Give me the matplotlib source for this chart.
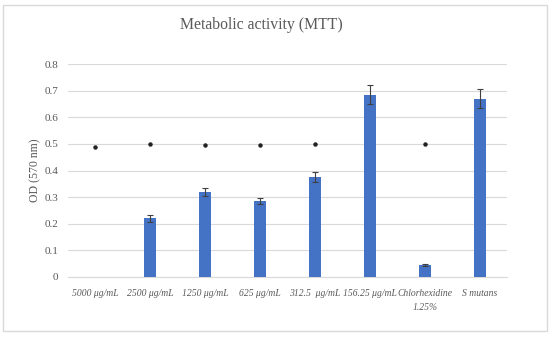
import matplotlib.pyplot as plt
import matplotlib.patches as patches
import numpy as np

categories = ["5000 μg/mL", "2500 μg/mL", "1250 μg/mL", "625 μg/mL",
              "312.5  μg/mL", "156.25 μg/mL", "Chlorhexidine\n1.25%", "S mutans"]
od_values = [0.0, 0.22, 0.32, 0.285, 0.375, 0.685, 0.045, 0.67]
od_errors = [0.0, 0.012, 0.016, 0.012, 0.02, 0.035, 0.003, 0.035]
star_values = [0.49, 0.50, 0.495, 0.495, 0.50, np.nan, 0.50, np.nan]
yticks = [0, 0.1, 0.2, 0.3, 0.4, 0.5, 0.6, 0.7, 0.8]
ytick_labels = ["0", "0.1", "0.2", "0.3", "0.4", "0.5", "0.6", "0.7", "0.8"]

plt.rcParams['font.family'] = ['Liberation Serif', 'DejaVu Serif']
text_color = '#595959'

fig = plt.figure(figsize=(5.5, 3.37), dpi=100)
fig.patches.append(patches.Rectangle((3 / 550, 6 / 337), 544 / 550, 326 / 337,
                                     transform=fig.transFigure, fill=False,
                                     edgecolor='#d9d9d9', linewidth=1))

ax = fig.add_axes([68 / 550, 1 - 277 / 337, 439 / 550, 213 / 337])
x = np.arange(len(categories))
ax.bar(x, od_values, width=0.22, color='#4472C4', zorder=3)
err_x = [i for i in x if od_values[i] > 0]
ax.errorbar(err_x, [od_values[i] for i in err_x], yerr=[od_errors[i] for i in err_x],
            fmt='none', ecolor='#404040', elinewidth=0.8, capsize=2, capthick=0.8, zorder=4)
ax.plot(x, star_values, linestyle='none', marker='o', markersize=2.2,
        color='#222222', zorder=4)

ax.set_ylim(0, 0.8)
ax.set_xlim(-0.5, len(categories) - 0.5)
ax.set_yticks(yticks)
ax.set_yticklabels(ytick_labels)
ax.yaxis.grid(True, color='#d9d9d9', linewidth=0.8, zorder=0)
ax.set_axisbelow(True)
for s in ['top', 'right', 'left']:
    ax.spines[s].set_visible(False)
ax.spines['bottom'].set_color('#d9d9d9')
ax.tick_params(axis='y', length=0, labelsize=8, colors=text_color, pad=7)
ax.set_xticks(x)
ax.set_xticklabels(categories, fontstyle='italic', fontsize=6.9, linespacing=1.6)
ax.tick_params(axis='x', length=0, colors=text_color, pad=9)
ax.set_ylabel("OD (570 nm)", fontsize=8.5, color=text_color, labelpad=2)
fig.text(0.475, 1 - 25 / 337, "Metabolic activity (MTT)", ha='center', va='center',
         fontsize=11.3, color=text_color)

fig.savefig("out.png", dpi=100)
